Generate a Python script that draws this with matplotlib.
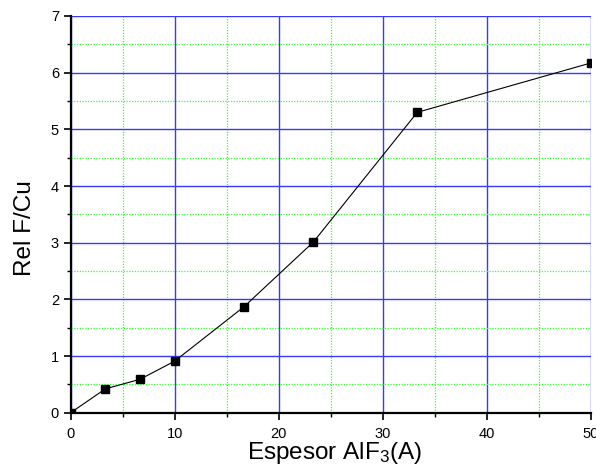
import matplotlib
matplotlib.use("Agg")
import matplotlib.pyplot as plt
from matplotlib.ticker import MultipleLocator

plt.rcParams['font.family'] = ['Liberation Sans', 'DejaVu Sans']
plt.rcParams['mathtext.fontset'] = 'custom'
plt.rcParams['mathtext.rm'] = 'Liberation Sans'
plt.rcParams['mathtext.it'] = 'Liberation Sans:italic'

espesor = [0, 3.33, 6.67, 10, 16.67, 23.33, 33.33, 50]
rel_f_cu = [0, 0.42, 0.59, 0.91, 1.87, 3.01, 5.30, 6.17]

fig = plt.figure(figsize=(5.96, 4.70), dpi=100)
ax = fig.add_axes([0.1186, 0.1219, 0.8724, 0.8441])

ax.plot(espesor, rel_f_cu, color='black', lw=0.8, marker='s', ms=6,
        mfc='black', mec='black', zorder=5)

ax.set_xlim(0, 50)
ax.set_ylim(0, 7)
ax.xaxis.set_major_locator(MultipleLocator(10))
ax.xaxis.set_minor_locator(MultipleLocator(5))
ax.yaxis.set_major_locator(MultipleLocator(1))
ax.yaxis.set_minor_locator(MultipleLocator(0.5))

ax.grid(which='major', color='#3a3aff', lw=1.0, ls='-', zorder=0)
ax.grid(which='minor', color='#33ff33', lw=0.9, ls=(0, (1, 1.2)), zorder=0)
ax.set_axisbelow(True)

for s in ['top', 'right']:
    ax.spines[s].set_visible(False)
for s in ['left', 'bottom']:
    ax.spines[s].set_linewidth(1.6)

ax.tick_params(which='major', direction='out', length=5, width=1.2, labelsize=10.5)
ax.tick_params(axis='x', which='major', pad=5)
ax.tick_params(which='minor', direction='out', length=3, width=1.0)

ax.set_xlabel(r'Espesor AlF$_{\mathrm{3}}$(A)', fontsize=17.5)
ax.set_ylabel('Rel F/Cu', fontsize=17.5)
ax.xaxis.set_label_coords(0.508, -0.068)
ax.yaxis.set_label_coords(-0.067, 0.466)

fig.savefig('out.png', dpi=100)
